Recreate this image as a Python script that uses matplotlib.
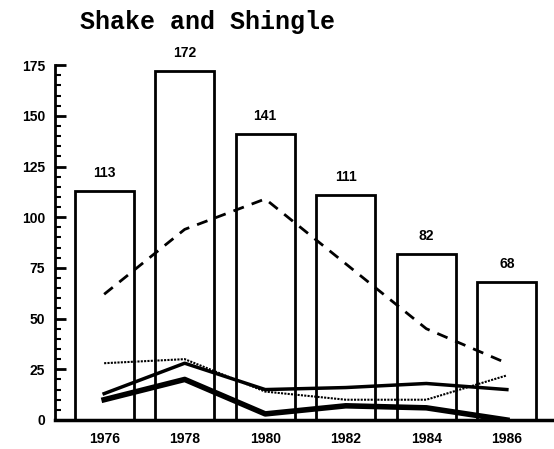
import numpy as np
import matplotlib.pyplot as plt

# values
years = [1976, 1978, 1980, 1982, 1984, 1986]
year_labels = ["1976", "1978", "1980", "1982", "1984", "1986"]
totals = [113, 172, 141, 111, 82, 68]
dashed_vals = [62, 94, 109, 77, 45, 28]
medium_vals = [13, 28, 15, 16, 18, 15]
dotted_vals = [28, 30, 14, 10, 10, 22]
thick_vals = [10, 20, 3, 7, 6, 0]

fig = plt.figure(figsize=(5.54, 4.49), dpi=100)
ax = fig.add_axes([0.0993, 0.0646, 0.9007, 0.7904])

bars = ax.bar(years, totals, width=1.46, fill=False, edgecolor='black', linewidth=2)
for x, v in zip(years, totals):
  ax.annotate(str(v), (x, v), xytext=(0, 8), textcoords='offset points',
              ha='center', va='bottom', fontsize=10, fontweight='bold',
              family='Liberation Sans')

ax.plot(years, dashed_vals, color='black', linewidth=2, linestyle=(0, (4, 3)))
ax.plot(years, dotted_vals, color='black', linewidth=1.5, linestyle=(0, (1, 0.6)))
ax.plot(years, medium_vals, color='black', linewidth=2.5)
ax.plot(years, thick_vals, color='black', linewidth=4)

ax.set_xlim(1974.78, 1987.17)
ax.set_ylim(0, 175)
ax.set_xticks(years)
ax.set_xticklabels(year_labels, fontsize=10, fontweight='bold', family='Liberation Sans')
ax.set_yticks(np.arange(0, 176, 25))
ax.set_yticklabels([str(v) for v in range(0, 176, 25)], fontsize=10, fontweight='bold',
                   family='Liberation Sans')
ax.set_yticks(np.arange(0, 176, 5), minor=True)
ax.tick_params(axis='x', length=0, pad=9)
ax.tick_params(axis='y', which='major', direction='in', length=8, width=2, pad=7)
ax.tick_params(axis='y', which='minor', direction='in', length=4, width=1.5)

ax.spines['top'].set_visible(False)
ax.spines['right'].set_visible(False)
ax.spines['left'].set_linewidth(2)
ax.spines['bottom'].set_linewidth(2.5)

fig.text(0.145, 0.95, "Shake and Shingle", fontsize=18, fontweight='bold',
         family='Liberation Mono', ha='left', va='center')

fig.savefig("out.png", dpi=100)
